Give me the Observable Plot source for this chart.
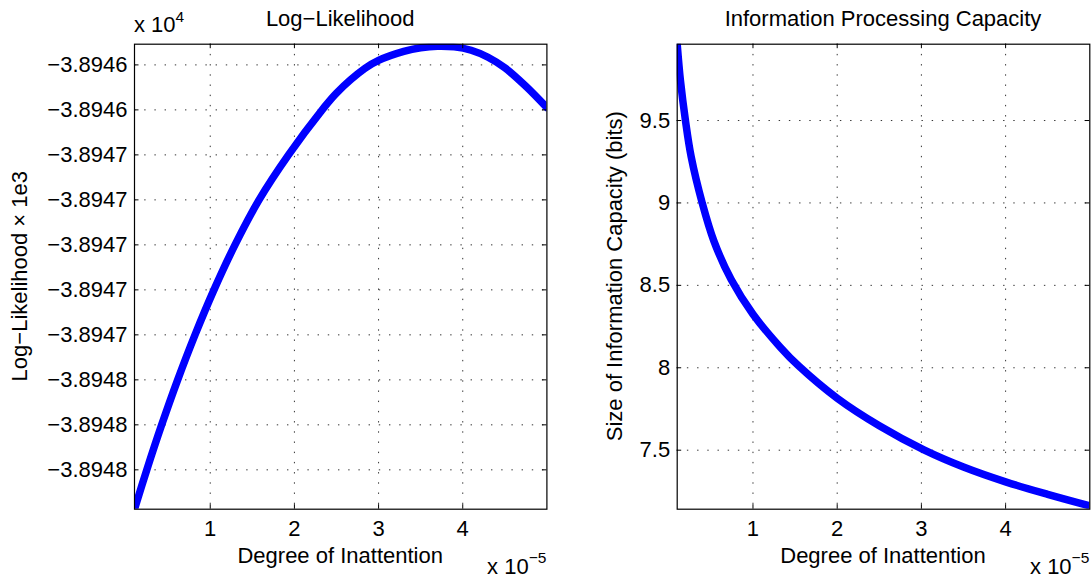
<!DOCTYPE html>
<html>
<head>
<meta charset="utf-8">
<script src="https://cdn.jsdelivr.net/npm/d3@7"></script>
<script src="https://cdn.jsdelivr.net/npm/@observablehq/plot@0.6"></script>
<style>
  html, body { margin: 0; padding: 0; background: #ffffff; }
  #wrap { position: relative; width: 1091px; height: 579px; overflow: hidden; background: #fff; }
  #wrap svg { position: absolute; top: 0; }
</style>
</head>
<body>
<div id="wrap"></div>
<script>
// ---------------- data ----------------
// Left panel: Log-Likelihood vs degree of inattention (x in units of 1e-5)
const llInattention = [0.1, 0.246, 0.423, 0.613, 0.819, 1.044, 1.294, 1.58, 1.93, 2.33, 2.5, 2.84, 3.0, 3.3, 3.5, 3.7, 3.9, 4.1, 4.3, 4.5, 4.75, 5.0];
const llValues = [-38948.175, -38948.0, -38947.8, -38947.6, -38947.4, -38947.2, -38947.0, -38946.8, -38946.6, -38946.4, -38946.325, -38946.215, -38946.18, -38946.14, -38946.124, -38946.117, -38946.12, -38946.135, -38946.166, -38946.213, -38946.295, -38946.39];

// Right panel: information processing capacity (bits)
const capInattention = [0.1, 0.139, 0.198, 0.266, 0.397, 0.535, 0.741, 1.0, 1.324, 1.544, 2.0, 2.5, 3.03, 3.5, 4.0, 4.5, 5.0];
const capValues = [9.963, 9.74, 9.5, 9.28, 9.0, 8.77, 8.535, 8.325, 8.125, 8.01, 7.815, 7.648, 7.502, 7.398, 7.308, 7.232, 7.162];

// axes
const xDomain = [0.1, 5.0];
const xTicks = [1, 2, 3, 4];
const xTickLabels = ["1", "2", "3", "4"];

const llDomain = [-38948.175, -38946.108];
const llTicks = [-38946.2, -38946.4, -38946.6, -38946.8, -38947.0, -38947.2, -38947.4, -38947.6, -38947.8, -38948.0];
const llTickLabels = ["\u22123.8946", "\u22123.8946", "\u22123.8947", "\u22123.8947", "\u22123.8947", "\u22123.8947", "\u22123.8947", "\u22123.8948", "\u22123.8948", "\u22123.8948"];

const capDomain = [7.142, 9.963];
const capTicks = [7.5, 8, 8.5, 9, 9.5];
const capTickLabels = ["7.5", "8", "8.5", "9", "9.5"];

const titles = ["Log\u2212Likelihood", "Information Processing Capacity"];
const yLabels = ["Log\u2212Likelihood \u00d7 1e3", "Size of Information Capacity (bits)"];
const xLabel = "Degree of Inattention";

// ---------------- drawing ----------------
const FONT = '"Liberation Sans", Arial, Helvetica, sans-serif';
const H = 579, MT = 43.7, MB = 579 - 508.7;

function panel(cfg) {
  const {left, width, mL, mR, xs, ys, yDomain, yTicks, yTickLabels} = cfg;
  const fw = width - mL - mR, fh = H - MT - MB;
  const data = xs.map((x, i) => ({x, y: ys[i]}));
  const tick = 4.5;
  const gridStyle = {stroke: "#111", strokeOpacity: 0.85, strokeWidth: 1, strokeDasharray: "1.4,8.8"};
  const svg = Plot.plot({
    width, height: H,
    marginLeft: mL, marginRight: mR, marginTop: MT, marginBottom: MB,
    style: {fontFamily: FONT, fontSize: "22px", color: "#000", background: "transparent", overflow: "visible"},
    x: {domain: xDomain},
    y: {domain: yDomain},
    marks: [
      Plot.gridX(xTicks, gridStyle),
      Plot.gridY(yTicks, gridStyle),
      Plot.line(data, {x: "x", y: "y", stroke: "#0000ff", strokeWidth: 7.5, curve: "catmull-rom", clip: true}),
      Plot.frame({stroke: "#000", strokeWidth: 1.2}),
      Plot.tickX(xTicks, {x: d => d, insetTop: fh - tick, stroke: "#000"}),
      Plot.tickX(xTicks, {x: d => d, insetBottom: fh - tick, stroke: "#000"}),
      Plot.tickY(yTicks, {y: d => d, insetRight: fw - tick, stroke: "#000"}),
      Plot.tickY(yTicks, {y: d => d, insetLeft: fw - tick, stroke: "#000"}),
      Plot.axisX(xTicks, {tickSize: 0, tickPadding: 11, label: null, fontSize: 22,
        tickFormat: d => xTickLabels[xTicks.indexOf(d)]}),
      Plot.axisY(yTicks, {tickSize: 0, tickPadding: 7, label: null, fontSize: 22,
        tickFormat: d => yTickLabels[yTicks.indexOf(d)]})
    ]
  });
  svg.style.left = left + "px";
  document.getElementById("wrap").appendChild(svg);

  const s = d3.select(svg);
  const g = s.append("g").attr("font-family", FONT).attr("fill", "#000");
  const cx = mL + fw / 2, cy = MT + fh / 2;
  g.append("text").attr("x", cx).attr("y", 26).attr("text-anchor", "middle")
    .attr("font-size", 22).text(cfg.title);
  g.append("text").attr("transform", `translate(${cfg.yLabelX},${cy}) rotate(-90)`)
    .attr("text-anchor", "middle").attr("font-size", 22).text(cfg.yLabel);
  g.append("text").attr("x", cx).attr("y", 562.5).attr("text-anchor", "middle")
    .attr("font-size", 22).text(xLabel);
  // x multiplier (bottom right)
  const xm = g.append("text").attr("x", mL + fw).attr("y", 573.5).attr("text-anchor", "end").attr("font-size", 22);
  xm.append("tspan").text("x 10");
  xm.append("tspan").attr("font-size", 15.5).attr("dy", -10.5).text("\u22125");
  if (cfg.yExp) {
    const ym = g.append("text").attr("x", mL).attr("y", 32).attr("text-anchor", "start").attr("font-size", 22);
    ym.append("tspan").text("x 10");
    ym.append("tspan").attr("font-size", 15.5).attr("dy", -10.5).text(cfg.yExp);
  }
}

panel({left: 0, width: 560, mL: 134, mR: 13.6, xs: llInattention, ys: llValues,
  yDomain: llDomain, yTicks: llTicks, yTickLabels: llTickLabels,
  title: titles[0], yLabel: yLabels[0], yLabelX: 27, yExp: "4"});
panel({left: 560, width: 531, mL: 116.7, mR: 1.7, xs: capInattention, ys: capValues,
  yDomain: capDomain, yTicks: capTicks, yTickLabels: capTickLabels,
  title: titles[1], yLabel: yLabels[1], yLabelX: 62, yExp: null});
</script>
</body>
</html>
